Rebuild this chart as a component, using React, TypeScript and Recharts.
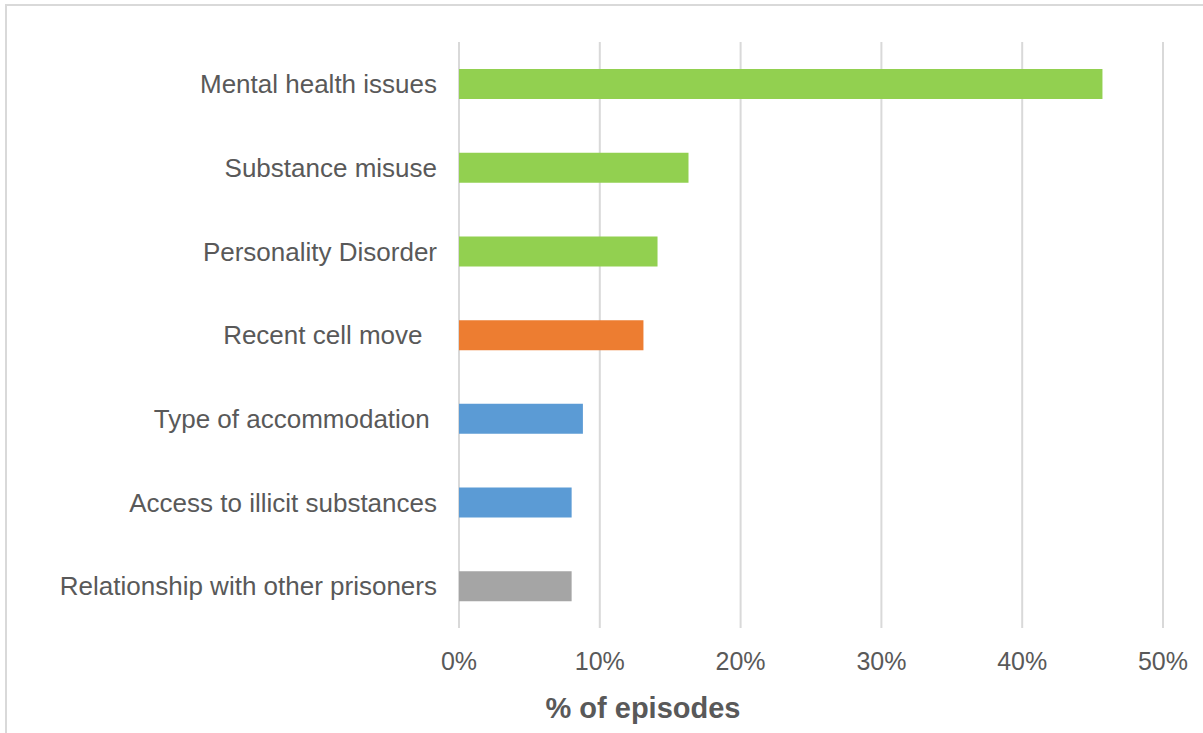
import { BarChart, Bar, Cell, CartesianGrid, XAxis, YAxis } from 'recharts';

const categories = [
  'Mental health issues',
  'Substance misuse',
  'Personality Disorder',
  'Recent cell move\u00A0\u00A0',
  'Type of accommodation\u00A0',
  'Access to illicit substances',
  'Relationship with other prisoners',
];
const episodeShare = [45.7, 16.3, 14.1, 13.1, 8.8, 8.0, 8.0];
const barColors = ['#92d050', '#92d050', '#92d050', '#ed7d31', '#5b9bd5', '#5b9bd5', '#a5a5a5'];
const xTicks = [0, 10, 20, 30, 40, 50];

const data = categories.map((name, i) => ({ name, value: episodeShare[i] }));

const textColor = '#595959';
const font = '"Liberation Sans", Arial, sans-serif';

export default function App() {
  return (
    <div style={{ position: 'absolute', left: 0, top: 0, width: 1203, height: 733, background: '#fff' }}>
      <div
        style={{
          position: 'absolute',
          left: 5,
          top: 4,
          right: 0,
          bottom: 0,
          borderTop: '2px solid #d9d9d9',
          borderLeft: '2px solid #d9d9d9',
        }}
      />
      <BarChart
        width={1203}
        height={733}
        data={data}
        layout="vertical"
        margin={{ top: 42, right: 40, left: 0, bottom: 0 }}
        style={{ position: 'absolute', left: 0, top: 0, fontFamily: font }}
      >
        <CartesianGrid horizontal={false} vertical stroke="#d9d9d9" strokeWidth={2} />
        <XAxis
          type="number"
          domain={[0, 50]}
          ticks={xTicks}
          tickFormatter={(v: number) => `${v}%`}
          axisLine={false}
          tickLine={false}
          tickSize={0}
          tickMargin={24}
          height={105}
          tick={{ fill: textColor, fontSize: 25, fontFamily: font }}
          label={{
            content: () => (
              <text x={643} y={718} textAnchor="middle" fill={textColor} fontSize={29} fontWeight="bold" fontFamily={font}>
                % of episodes
              </text>
            ),
          }}
        />
        <YAxis
          type="category"
          dataKey="name"
          width={459}
          axisLine={false}
          tickLine={false}
          tickSize={0}
          tickMargin={22}
          interval={0}
          tick={{ fill: textColor, fontSize: 26, fontFamily: font }}
        />
        <Bar dataKey="value" barSize={30} isAnimationActive={false}>
          {data.map((d, i) => (
            <Cell key={d.name} fill={barColors[i]} />
          ))}
        </Bar>
      </BarChart>
    </div>
  );
}
